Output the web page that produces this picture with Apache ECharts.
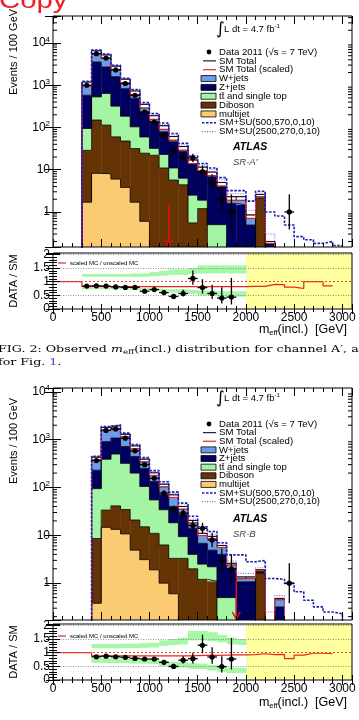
<!DOCTYPE html>
<html>
<head>
<meta charset="utf-8">
<script src="https://cdn.jsdelivr.net/npm/echarts@6/dist/echarts.min.js"></script>
<style>
  html, body { margin: 0; padding: 0; background: #fff; }
  #chart { width: 359px; height: 720px; }
</style>
</head>
<body>
<div id="chart"></div>
<script>
// bin lower edges, 100 GeV wide
const BIN = 100
const edgesA = [300, 400, 500, 600, 700, 800, 900, 1000, 1100, 1200, 1300, 1400, 1500, 1600, 1700, 1800, 1900, 2000, 2100, 2200, 2300, 2400, 2500, 2600, 2700, 2800, 2900]
const edgesB = [400, 500, 600, 700, 800, 900, 1000, 1100, 1200, 1300, 1400, 1500, 1600, 1700, 1800, 1900, 2000, 2100, 2200, 2300, 2400, 2500, 2600, 2700, 2800, 2900]

// SR-A'
const multijetA = [1.7, 8.2, 8.0, 6.0, 3.8, 1.7, 0.6, 0, 0, 0, 0, 0, 0, 0, 0, 0, 0, 0, 0, 0, 0, 0, 0, 0, 0, 0, 0]
const dibosonA = [27, 142, 106, 54, 44, 30, 24, 22, 11, 5.7, 4.4, 0.55, 1.2, 0, 0, 0, 0, 0, 2.1, 0, 0, 0, 0, 0, 0, 0, 0]
const ttbarA = [66, 380, 526, 260, 137, 72, 35, 10, 12, 5.3, 1.9, 1.95, 0.7, 0.5, 0.5, 0, 0, 0, 0, 0, 0, 0, 0, 0, 0, 0, 0]
const zjetsA = [485, 3020, 2060, 1280, 645, 386, 175, 103, 56, 35, 21, 11.5, 7.1, 6.3, 3.4, 1.6, 1.46, 0.49, 0.2, 0.18, 0, 0, 0, 0, 0, 0, 0]
const wjetsA = [610, 3040, 2540, 1240, 560, 244, 119, 55, 31, 15, 8, 3, 2.5, 2, 1.1, 0.7, 0.84, 0.36, 0.3, 0.02, 0, 0, 0, 0, 0, 0, 0]
const dataA = [1000, 5600, 4400, 2300, 1100, 580, 230, 135, 66, 28, 20, 19, 9, 5, 2, 1, 0, 0, 0, 0, 0, 1, 0, 0, 0, 0, 0]
const sig1A = [1240, 6850, 5450, 2980, 1470, 790, 390, 215, 128, 72, 42, 21, 14, 11, 6.5, 3.2, 3.2, 1.8, 3.1, 1.0, 0.8, 0.49, 0.26, 0.22, 0.18, 0.2, 0.16]
const sig2A = [1220, 6750, 5380, 2920, 1430, 760, 370, 200, 118, 66, 38, 19, 13, 10, 5.8, 2.7, 2.7, 1.1, 2.8, 0.3, 0, 0, 0, 0, 0, 0, 0]
// scaled MC / unscaled MC, bins 300..2800
const scaleA = [0.82, 0.82, 0.82, 0.82, 0.82, 0.82, 0.82, 0.82, 0.82, 0.82, 0.82, 0.82, 0.82, 0.82, 0.82, 0.82, 0.82, 0.83, 0.83, 0.9, 0.89, 0.8, 0.75, 1.0, 1.0, 0.85]
// uncertainty band (outer edge, inner edge), bins 300..1900
const bandLoA = [0.72, 0.72, 0.72, 0.72, 0.72, 0.7, 0.7, 0.68, 0.65, 0.6, 0.6, 0.55, 0.5, 0.5, 0.45, 0.45, 0.45]
const bandHiA = [1.28, 1.28, 1.28, 1.28, 1.28, 1.3, 1.3, 1.35, 1.4, 1.45, 1.45, 1.5, 1.6, 1.6, 1.6, 1.6, 1.6]
const innerLoA = [0.78, 0.78, 0.78, 0.78, 0.78, 0.78, 0.77, 0.76, 0.74, 0.72, 0.72, 0.7, 0.68, 0.68, 0.65, 0.65, 0.65]
const innerHiA = [1.18, 1.18, 1.18, 1.18, 1.18, 1.18, 1.18, 1.2, 1.22, 1.25, 1.25, 1.28, 1.3, 1.3, 1.3, 1.3, 1.3]
const cutA = [1200, 1.5]

// SR-B
const multijetB = [0.38, 14.7, 13.3, 10.7, 4.9, 3.1, 1.9, 1.0, 0.6, 0, 0, 0, 0, 0, 0, 0, 0, 0, 0, 0, 0, 0, 0, 0, 0, 0]
const dibosonB = [8.2, 19, 28, 24, 16, 12, 9.1, 5.3, 2.7, 3.3, 2.0, 1.2, 1.1, 0, 0, 0, 0, 1.65, 0, 0, 0, 0, 0, 0, 0, 0]
const ttbarB = [86, 356, 459, 285, 179, 90, 44, 28, 15, 6.1, 2.0, 1.3, 1.1, 0.5, 0.5, 0, 0, 0, 0, 0, 0, 0, 0, 0, 0, 0]
const zjetsB = [135, 520, 580, 400, 245, 145, 78, 36, 22, 17.6, 10, 4.3, 2.7, 3.5, 1.5, 1.07, 1.07, 0.1, 0, 0.32, 0, 0, 0, 0, 0, 0]
const wjetsB = [200, 880, 870, 575, 295, 140, 70, 47, 30, 13, 6.5, 4.2, 4.6, 2.1, 0.6, 0.28, 0.28, 0.15, 0, 0.16, 0, 0, 0, 0, 0, 0]
const dataB = [365, 1560, 1660, 1075, 585, 300, 156, 76, 35, 29, 16, 14, 8, 3, 2, 0, 0, 0, 0, 0, 1, 0, 0, 0, 0, 0]
const sig1B = [450, 1880, 2050, 1370, 790, 420, 225, 132, 80, 47, 25, 15, 12, 7, 3.9, 3.9, 2.8, 3.0, 1.25, 1.2, 0.99, 0.66, 0.44, 0.32, 0.25, 0.23]
const sig2B = [445, 1850, 2010, 1340, 765, 405, 212, 123, 74, 43, 22, 12.5, 10.5, 6.6, 2.9, 1.6, 1.6, 2.1, 0.25, 0.55, 0, 0, 0, 0, 0, 0]
const scaleB = [0.88, 0.88, 0.88, 0.88, 0.88, 0.88, 0.88, 0.88, 0.88, 0.88, 0.89, 0.9, 0.9, 0.91, 0.92, 0.92, 0.93, 0.96, 0.93, 0.94, 0.78, 0.91, 0.98, 0.98, 0.96]
const bandLoB = [0.62, 0.62, 0.62, 0.62, 0.6, 0.6, 0.58, 0.5, 0.45, 0.45, 0.4, 0.4, 0.35, 0.3, 0.25, 0.25]
const bandHiB = [1.32, 1.32, 1.32, 1.33, 1.33, 1.35, 1.36, 1.45, 1.5, 1.55, 1.8, 1.8, 1.75, 1.65, 1.55, 1.5]
const innerLoB = [0.8, 0.8, 0.8, 0.8, 0.78, 0.78, 0.76, 0.7, 0.66, 0.66, 0.62, 0.6, 0.55, 0.5, 0.45, 0.45]
const innerHiB = [1.16, 1.16, 1.16, 1.17, 1.17, 1.18, 1.19, 1.25, 1.28, 1.3, 1.45, 1.45, 1.42, 1.38, 1.3, 1.28]
const cutB = [1900, 1.15]

const yellowFrom = 2000
const xTicks = [0, 500, 1000, 1500, 2000, 2500, 3000]

const COL = { w: '#6b9be9', z: '#00005f', tt: '#a3f5a3', db: '#643405', mj: '#fccb71' }
const TINY = 1e-4
const FONT = 'Liberation Sans, Arial, sans-serif'

const L = 53, W = 299
const grids = [
  { left: L, top: 16, width: W, height: 231 },
  { left: L, top: 253, width: W, height: 56 },
  { left: L, top: 388, width: W, height: 232 },
  { left: L, top: 624, width: W, height: 56 }
]

function stepData(edges, vals) {
  const pts = [[edges[0], TINY]]
  edges.forEach((e, i) => pts.push([e, vals[i] > 0 ? vals[i] : TINY]))
  pts.push([edges[edges.length - 1] + BIN, TINY])
  return pts
}

// rough asymmetric poisson errors
function pErr(n) {
  const s = Math.sqrt(n + 0.25)
  return [n - s + 0.5, n + s + 0.5]
}

function bottomOf(p) { return p.coordSys.y + p.coordSys.height }

function renderPoints(p, api) {
  const x = api.value(0), y = api.value(1)
  const c = api.coord([x, y])
  const lo = api.coord([x, api.value(2)])
  const hi = api.coord([x, api.value(3)])
  const xl = api.coord([x - BIN / 2, y])[0], xr = api.coord([x + BIN / 2, y])[0]
  const y1 = isFinite(lo[1]) ? lo[1] : bottomOf(p) + 5
  return {
    type: 'group', children: [
      { type: 'line', shape: { x1: c[0], y1: y1, x2: c[0], y2: hi[1] }, style: { stroke: '#000', lineWidth: 1.3 } },
      { type: 'line', shape: { x1: xl, y1: c[1], x2: xr, y2: c[1] }, style: { stroke: '#000', lineWidth: 1.3 } },
      { type: 'circle', shape: { cx: c[0], cy: c[1], r: 2.6 }, style: { fill: '#000' } }
    ]
  }
}

// filled bin rectangles between [lo, hi]; lo <= 0 means axis floor
function renderBins(color) {
  return (p, api) => {
    const e = api.value(0), lo = api.value(1), hi = api.value(2)
    const a = api.coord([e, hi])
    const b = api.coord([e + BIN, lo > 0 ? lo : 1])
    const yb = lo > 0 ? b[1] : bottomOf(p) + 2
    return { type: 'rect', shape: { x: a[0], y: a[1], width: b[0] - a[0] + 0.4, height: yb - a[1] },
      style: { fill: color } }
  }
}

function topSeries(edges, comps, data, scale, sig1, sig2, cut) {
  const cols = [COL.mj, COL.db, COL.tt, COL.z, COL.w]
  const cum = []
  comps.forEach((vals, k) => cum.push(vals.map((v, i) => v + (k ? cum[k - 1][i] : 0))))
  const sm = cum[cum.length - 1]
  const out = []
  comps.forEach((vals, k) => {
    const bins = []
    edges.forEach((e, i) => { if (vals[i] > 0) bins.push([e, k ? cum[k - 1][i] : 0, cum[k][i]]) })
    out.push({ type: 'custom', clip: true, z: 2, data: bins, renderItem: renderBins(cols[k]) })
  })
  cum.forEach(c => out.push({ type: 'line', step: 'end', symbol: 'none', z: 3,
    data: stepData(edges, c), lineStyle: { color: '#000', width: 0.8 } }))
  // band between scaled and unscaled SM total
  const boxes = []
  edges.forEach((e, i) => {
    const s = scale[i]
    if (sm[i] > 0.05 && s != null && s < 1) boxes.push([e, sm[i] * s, sm[i]])
  })
  out.push({
    type: 'custom', clip: true, z: 3, data: boxes,
    renderItem: (p, api) => {
      const a = api.coord([api.value(0), api.value(2)])
      const b = api.coord([api.value(0) + BIN, api.value(1)])
      return { type: 'rect', shape: { x: a[0], y: a[1], width: b[0] - a[0], height: b[1] - a[1] },
        style: { fill: '#fff', stroke: '#000', lineWidth: 0.7 } }
    }
  })
  const scaled = edges.map((e, i) => scale[i] != null ? sm[i] * scale[i] : 0)
  out.push({ type: 'line', step: 'end', symbol: 'none', z: 4,
    data: stepData(edges, scaled), lineStyle: { color: '#ee2222', width: 1 } })
  out.push({ type: 'line', step: 'end', symbol: 'none', z: 4,
    data: stepData(edges, sig2), lineStyle: { color: '#7a6cf0', width: 1.1, type: [1, 1.5] } })
  out.push({ type: 'line', step: 'end', symbol: 'none', z: 4,
    data: stepData(edges, sig1), lineStyle: { color: '#1a1ab0', width: 1.6, type: [2.5, 1.5] } })
  // cut arrow
  out.push({
    type: 'custom', z: 6, data: [cut],
    renderItem: (p, api) => {
      const t = api.coord([api.value(0), api.value(1)])
      const yb = bottomOf(p) - 1
      return { type: 'group', children: [
        { type: 'line', shape: { x1: t[0], y1: t[1], x2: t[0], y2: yb }, style: { stroke: '#e01010', lineWidth: 1.5 } },
        { type: 'polyline', shape: { points: [[t[0] - 4, yb - 7], [t[0], yb], [t[0] + 4, yb - 7]] },
          style: { stroke: '#e01010', lineWidth: 1.5, fill: null } }
      ] }
    }
  })
  const pts = []
  edges.forEach((e, i) => {
    if (data[i] > 0) { const er = pErr(data[i]); pts.push([e + BIN / 2, data[i], Math.max(er[0], TINY), er[1]]) }
  })
  out.push({ type: 'custom', clip: true, z: 8, data: pts, renderItem: renderPoints })
  return { out, sm }
}

function bandSeries(edges, lo, hi, color, z) {
  const band = lo.map((v, i) => [edges[i], v, hi[i]])
  return {
    type: 'custom', clip: true, z, data: band,
    renderItem: (p, api) => {
      const a = api.coord([api.value(0), api.value(2)]), b = api.coord([api.value(0) + BIN, api.value(1)])
      return { type: 'rect', shape: { x: a[0], y: a[1], width: b[0] - a[0] + 0.5, height: b[1] - a[1] }, style: { fill: color } }
    }
  }
}

function ratioSeries(edges, data, sm, scale, bandLo, bandHi, innerLo, innerHi) {
  const out = []
  out.push({
    type: 'custom', clip: true, z: 1, data: [[yellowFrom, 3100]],
    renderItem: (p, api) => {
      const a = api.coord([api.value(0), 2.05]), b = api.coord([api.value(1), 0])
      return { type: 'rect', shape: { x: a[0], y: a[1], width: b[0] - a[0], height: b[1] - a[1] }, style: { fill: '#ffff9e' } }
    }
  })
  out.push(bandSeries(edges, bandLo, bandHi, '#a6f7a6', 2))
  out.push(bandSeries(edges, innerLo, innerHi, '#ffffff', 2.5))
  const red = [[0, 1]]
  scale.forEach((s, i) => red.push([edges[i], s]))
  red.push([edges[scale.length - 1] + BIN, scale[scale.length - 1]])
  out.push({
    type: 'line', step: 'end', symbol: 'none', z: 4, data: red,
    lineStyle: { color: '#ee2222', width: 1.2 },
    markLine: {
      silent: true, symbol: 'none', label: { show: false }, animation: false,
      data: [
        { yAxis: 0.5, lineStyle: { color: '#777', type: [1, 1.5], width: 0.8 } },
        { yAxis: 1.5, lineStyle: { color: '#777', type: [1, 1.5], width: 0.8 } },
        { yAxis: 2, lineStyle: { color: '#777', type: [1, 1.5], width: 0.8 } },
        { yAxis: 1, lineStyle: { color: '#e8501c', type: [2, 2], width: 1 } }
      ]
    }
  })
  const pts = []
  edges.forEach((e, i) => {
    if (data[i] > 0 && sm[i] > 0.5) {
      const er = pErr(data[i])
      pts.push([e + BIN / 2, data[i] / sm[i], er[0] / sm[i], er[1] / sm[i]])
    }
  })
  out.push({ type: 'custom', clip: true, z: 8, data: pts, renderItem: renderPoints })
  return out
}

function powLabel(v) {
  const e = Math.round(Math.log10(v))
  if (Math.abs(Math.log10(v) - e) > 1e-6) return ''
  if (e === 0) return '1'
  if (e === 1) return '10'
  return '10{s|' + e + '}'
}

const xAxes = [], yAxes = []
grids.forEach((g, i) => {
  const ratio = i % 2 === 1
  const base = {
    type: 'value', gridIndex: i, min: 0, max: 3100, interval: 500, z: 10,
    axisLine: { show: false }, splitLine: { show: false },
    axisTick: { inside: true, length: ratio ? 5 : 8, lineStyle: { color: '#000' } },
    minorTick: { show: true, splitNumber: 5, length: ratio ? 3 : 4, lineStyle: { color: '#000' } }
  }
  xAxes.push(Object.assign({}, base, { position: 'bottom',
    axisLabel: { show: ratio, color: '#000', fontSize: 12, fontFamily: FONT, margin: 3,
      formatter: v => xTicks.includes(v) ? String(v) : '' } }))
  xAxes.push(Object.assign({}, base, { position: 'top', axisLabel: { show: false } }))
})
grids.forEach((g, i) => {
  const ratio = i % 2 === 1
  let base
  if (ratio) {
    base = { type: 'value', gridIndex: i, min: 0, max: 2.05, interval: 0.5, z: 10,
      axisLine: { show: false }, splitLine: { show: false },
      axisTick: { inside: true, length: 7, lineStyle: { color: '#000' } },
      minorTick: { show: true, splitNumber: 5, length: 4, lineStyle: { color: '#000' } } }
  } else {
    base = { type: 'log', logBase: 10, gridIndex: i, min: i === 0 ? 0.148 : 0.17, max: i === 0 ? 43600 : 12000, z: 10,
      axisLine: { show: false }, splitLine: { show: false },
      axisTick: { inside: true, length: 8, lineStyle: { color: '#000' } } }
  }
  yAxes.push(Object.assign({}, base, { position: 'left',
    axisLabel: ratio
      ? { color: '#000', fontSize: 12, fontFamily: FONT, margin: 3, formatter: v => (Math.abs(v * 2 - Math.round(v * 2)) < 1e-6 ? String(v) : '') }
      : { color: '#000', fontSize: 12, fontFamily: FONT, margin: 3, formatter: powLabel,
          rich: { s: { fontSize: 8, fontFamily: FONT, verticalAlign: 'top', padding: [0, 0, 7, 0] } } } }))
  yAxes.push(Object.assign({}, base, { position: 'right', axisLabel: { show: false } }))
})

// minor log ticks (2..9 x 10^k)
function logMinor(min, max) {
  const vals = []
  for (let k = -1; k <= 4; k++) for (let m = 2; m <= 9; m++) { const v = m * Math.pow(10, k); if (v > min && v < max) vals.push([v]) }
  return {
    type: 'custom', z: 9, data: vals,
    renderItem: (p, api) => {
      const a = api.coord([0, api.value(0)]), b = api.coord([3100, api.value(0)])
      return { type: 'group', children: [
        { type: 'line', shape: { x1: a[0], y1: a[1], x2: a[0] + 4, y2: a[1] }, style: { stroke: '#000', lineWidth: 1 } },
        { type: 'line', shape: { x1: b[0] - 4, y1: b[1], x2: b[0], y2: b[1] }, style: { stroke: '#000', lineWidth: 1 } }
      ] }
    }
  }
}

// bottom/left axes of grid gi are entries gi*2
function onGrid(list, gi) {
  list.forEach(s => { s.xAxisIndex = gi * 2; s.yAxisIndex = gi * 2; s.animation = false })
  return list
}

const A = topSeries(edgesA, [multijetA, dibosonA, ttbarA, zjetsA, wjetsA], dataA, scaleA, sig1A, sig2A, cutA)
const B = topSeries(edgesB, [multijetB, dibosonB, ttbarB, zjetsB, wjetsB], dataB, scaleB, sig1B, sig2B, cutB)
const series = [].concat(
  onGrid(A.out, 0),
  onGrid(ratioSeries(edgesA, dataA, A.sm, scaleA, bandLoA, bandHiA, innerLoA, innerHiA), 1),
  onGrid(B.out, 2),
  onGrid(ratioSeries(edgesB, dataB, B.sm, scaleB, bandLoB, bandHiB, innerLoB, innerHiB), 3),
  onGrid([logMinor(0.148, 43600)], 0),
  onGrid([logMinor(0.17, 12000)], 2)
)

// ---------- text / legend ----------
function txt(x, y, text, size, opts) {
  return Object.assign({ type: 'text', x, y, z: 20, scaleX: opts && opts.sx || 1,
    style: Object.assign({ text, font: (opts && opts.font) || (size + 'px ' + FONT), fill: '#000',
      textAlign: 'left', textVerticalAlign: 'middle' }, opts && opts.style) }, opts && opts.el)
}

function legend(y0, step, lumiY, atlasY, region) {
  const els = []
  const tx = 219
  els.push(txt(216, lumiY + 1, '∫', 17, { font: '17px DejaVu Sans' }))
  els.push(txt(224, lumiY, 'L dt = 4.7 fb{s|-1}', 9.5, { style: { rich: { s: { fontSize: 6, fontFamily: FONT, verticalAlign: 'top', padding: [0, 0, 5, 0] } } } }))
  const rows = ['Data 2011 (√s = 7 TeV)', 'SM Total', 'SM Total (scaled)', 'W+jets', 'Z+jets', 'tt̄ and single top', 'Diboson', 'multijet', 'SM+SU(500,570,0,10)', 'SM+SU(2500,270,0,10)']
  rows.forEach((r, k) => els.push(txt(tx, y0 + k * step, r, 9.6)))
  els.push({ type: 'circle', z: 20, shape: { cx: 209, cy: y0, r: 2.4 }, style: { fill: '#000' } })
  els.push({ type: 'line', z: 20, shape: { x1: 203, y1: y0 + step, x2: 216, y2: y0 + step }, style: { stroke: '#222', lineWidth: 1.2 } })
  els.push({ type: 'line', z: 20, shape: { x1: 203, y1: y0 + 2 * step, x2: 216, y2: y0 + 2 * step }, style: { stroke: '#ee2222', lineWidth: 1.2 } })
  const cols = [COL.w, COL.z, COL.tt, COL.db, COL.mj]
  cols.forEach((c, k) => els.push({ type: 'rect', z: 20, shape: { x: 201, y: y0 + (3 + k) * step - 3, width: 15, height: 6 },
    style: { fill: c, stroke: '#000', lineWidth: 0.8 } }))
  els.push({ type: 'line', z: 20, shape: { x1: 202, y1: y0 + 8 * step, x2: 216, y2: y0 + 8 * step }, style: { stroke: '#1a1ab0', lineWidth: 1.6, lineDash: [2.5, 1.5] } })
  els.push({ type: 'line', z: 20, shape: { x1: 202, y1: y0 + 9 * step, x2: 216, y2: y0 + 9 * step }, style: { stroke: '#7a6cf0', lineWidth: 1.1, lineDash: [1, 1.5] } })
  els.push(txt(233, atlasY, 'ATLAS', 10.5, { font: 'italic bold 10.5px ' + FONT }))
  els.push(txt(233, atlasY + 15, region, 9.5, { font: 'italic 9.5px ' + FONT, style: { fill: '#444' } }))
  return els
}

function ratioLegend(y) {
  return [
    { type: 'line', z: 20, shape: { x1: 58, y1: y, x2: 66, y2: y }, style: { stroke: '#ee2222', lineWidth: 1.2 } },
    txt(70, y, 'scaled MC / unscaled MC', 6)
  ]
}

function axisTitles(topMid, ratioMid, xTitleY) {
  return [
    txt(14, topMid, 'Events / 100 GeV', 11, { el: { rotation: Math.PI / 2 }, style: { textAlign: 'center' } }),
    txt(14, ratioMid, 'DATA / SM', 11, { el: { rotation: Math.PI / 2 }, style: { textAlign: 'center' } }),
    txt(347, xTitleY, 'm{b|eff}(incl.)  [GeV]', 12.5, { style: { textAlign: 'right',
      rich: { b: { fontSize: 7.5, fontFamily: FONT, verticalAlign: 'bottom', padding: [6, 0, 0, 0] } } } })
  ]
}

const SERIF = 'DejaVu Serif, Liberation Serif, serif'
const graphic = [].concat(
  [txt(-1, 1, 'Copy', 24, { sx: 1.22, font: '24px ' + FONT, style: { fill: '#ee1c24' } })],
  legend(52, 8.85, 29, 147, 'SR-A′'),
  legend(424, 8.63, 398, 519, 'SR-B'),
  ratioLegend(263),
  ratioLegend(636),
  axisTitles(52, 281, 330),
  axisTitles(441, 652, 703),
  [
    txt(-2, 350, 'FIG. 2: Observed {i|m}{b|eff}(incl.) distribution for channel A′, a', 9.5, { sx: 1.33,
      font: '9.5px ' + SERIF, style: { rich: { i: { fontStyle: 'italic', fontSize: 9.5, fontFamily: SERIF }, b: { fontSize: 6.5, fontFamily: SERIF, verticalAlign: 'bottom', padding: [4, 0, 0, 0] } } } }),
    txt(-2, 362.5, 'for Fig. {l|1}.', 9.5, { sx: 1.33, font: '9.5px ' + SERIF,
      style: { rich: { l: { fill: '#3a3ad0', fontSize: 9.5, fontFamily: SERIF } } } })
  ]
)

const chart = echarts.init(document.getElementById('chart'), null, { renderer: 'canvas' })
chart.setOption({
  animation: false,
  backgroundColor: '#fff',
  grid: grids.map(g => Object.assign({ show: true, borderColor: '#000', borderWidth: 1, z: 10, backgroundColor: 'transparent' }, g)),
  xAxis: xAxes,
  yAxis: yAxes,
  series,
  graphic
})
</script>
</body>
</html>
